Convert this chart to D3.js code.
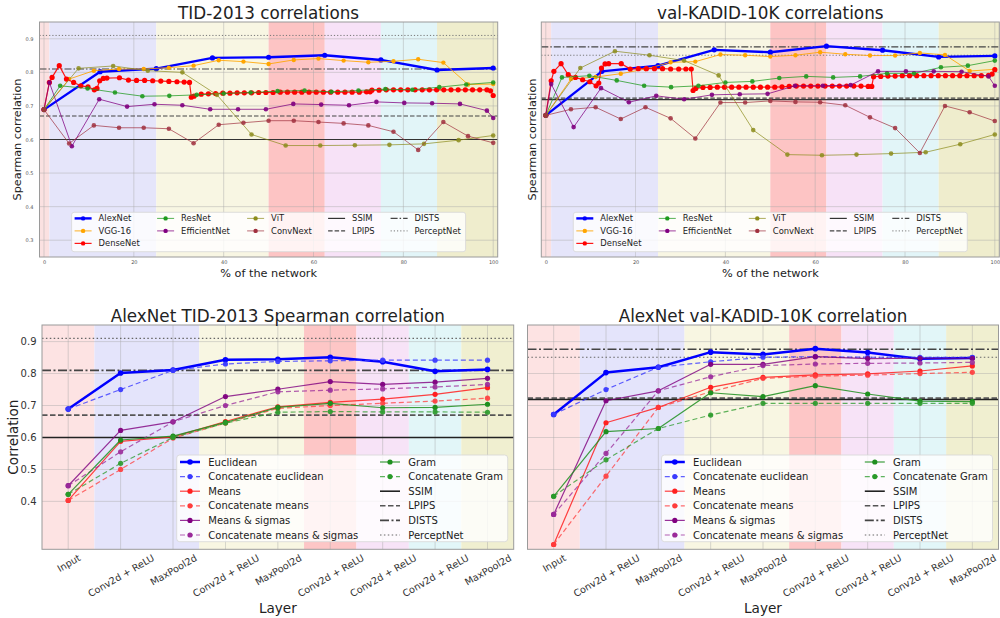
<!DOCTYPE html>
<html>
<head>
<meta charset="utf-8">
<script src="https://cdn.jsdelivr.net/npm/d3@7"></script>
<style>
  body { margin: 0; background: #fff; }
  svg { display: block; font-family: "DejaVu Sans", "Liberation Sans", sans-serif; }
  svg text { font-family: "DejaVu Sans", "Liberation Sans", sans-serif; }
</style>
</head>
<body>
<svg id="chart" width="1000" height="618"></svg>
<script>
// ---------------- data ----------------
const networkNames = ["AlexNet", "VGG-16", "DenseNet", "ResNet", "EfficientNet", "ViT", "ConvNext"];
const baselineNames = ["SSIM", "LPIPS", "DISTS", "PerceptNet"];
const pctTicks = [0, 20, 40, 60, 80, 100];
const corrTicksTop = [0.3, 0.4, 0.5, 0.6, 0.7, 0.8, 0.9];
const corrTicksBottom = [0.4, 0.5, 0.6, 0.7, 0.8, 0.9];
const layerNames = ["Input", "Conv2d + ReLU", "MaxPool2d", "Conv2d + ReLU", "MaxPool2d",
                    "Conv2d + ReLU", "Conv2d + ReLU", "Conv2d + ReLU", "MaxPool2d"];
const layerIndex = [0, 1, 2, 3, 4, 5, 6, 7, 8];
// AlexNet stage boundaries, in % of network and in layer index
const pctBandEdges = [-1, 1.2, 25, 50, 62.5, 75, 87.5, 101];
const layerBandEdges = [-0.5, 0.5, 2.5, 4.5, 5.5, 6.5, 7.5, 8.5];

// sampled layer positions (% of the network)
const alexPos = [0, 12.5, 25, 37.5, 50, 62.5, 75, 87.5, 100];
const vggPos = [0, 5.6, 11.1, 16.7, 22.2, 27.8, 33.3, 38.9, 44.4, 50, 55.6, 61.1, 66.7, 72.2, 77.8, 83.3, 88.9, 94.4, 100];
const convNextPos = [0, 5.6, 11.1, 16.7, 22.2, 27.8, 33.3, 38.9, 44.4, 50, 55.6, 61.1, 66.7, 72.2, 77.8, 83.3, 88.9, 94.4, 100];
const resPos = [0, 3.6, 9.7, 15.8, 21.9, 27.9, 34, 40, 46, 52, 58, 64, 70, 76, 82, 88, 94, 100];
const effPos = [0, 1.2, 6.2, 12.3, 18.5, 24.6, 30.8, 37, 43.2, 49.4, 55.5, 61.7, 67.9, 74, 80.2, 86.4, 92.6, 98.6, 100];
const vitPos = [0, 7.7, 15.4, 23.1, 30.8, 38.5, 46.2, 53.8, 61.5, 69.2, 76.9, 84.6, 92.3, 100];
const densePos = [0, 1.2, 1.8, 3.4, 5.0, 6.6, 8.2, 9.8, 11.2, 11.8, 12.4, 13.2, 14.0, 16.8, 18.8, 20.6, 22.4, 24.2,
  26.0, 27.8, 29.6, 31.2, 32.4, 32.8, 33.4, 35.0, 36.6, 38.2, 39.8, 41.4, 43.0, 44.6, 46.2, 47.8, 49.4, 51.0,
  52.6, 54.2, 55.8, 57.4, 59.0, 60.6, 62.2, 63.8, 65.4, 67.0, 68.6, 70.2, 71.8, 72.6, 73.0, 74.6, 76.2, 77.8,
  79.4, 81.0, 82.6, 84.2, 85.8, 87.4, 89.0, 90.6, 92.2, 93.8, 95.4, 97.0, 98.6, 99.4, 100];

// TID-2013 Spearman correlations per network
const alexTID = [0.689, 0.802, 0.811, 0.843, 0.845, 0.851, 0.837, 0.807, 0.813];
const vggTID = [0.689, 0.78, 0.805, 0.81, 0.81, 0.814, 0.82, 0.836, 0.832, 0.825, 0.837, 0.841, 0.835, 0.83, 0.833, 0.839, 0.829, 0.764, 0.765];
const denseTID = [0.689, 0.77, 0.785, 0.82, 0.78, 0.77, 0.76, 0.757, 0.748, 0.752, 0.775, 0.782, 0.783,
  0.784, 0.777, 0.776, 0.776, 0.775, 0.774, 0.773, 0.772, 0.771, 0.770,
  0.726, 0.729,
  0.735, 0.736, 0.737, 0.738, 0.738, 0.739, 0.739, 0.739, 0.74, 0.74, 0.74, 0.741, 0.741, 0.741, 0.741, 0.741,
  0.741, 0.741, 0.741, 0.741, 0.741, 0.741, 0.741, 0.742, 0.742,
  0.747, 0.747, 0.748, 0.748, 0.748, 0.748, 0.748, 0.748, 0.748, 0.748, 0.748, 0.748, 0.748, 0.748, 0.748, 0.748, 0.748,
  0.745, 0.731];
const resTID = [0.689, 0.76, 0.752, 0.74, 0.729, 0.73, 0.733, 0.737, 0.74, 0.744, 0.746, 0.742, 0.746, 0.75, 0.748, 0.756, 0.764, 0.77];
const effTID = [0.689, 0.77, 0.58, 0.72, 0.698, 0.705, 0.702, 0.69, 0.69, 0.69, 0.706, 0.704, 0.702, 0.712, 0.709, 0.708, 0.706, 0.686, 0.664];
const vitTID = [0.689, 0.812, 0.819, 0.805, 0.80, 0.733, 0.615, 0.582, 0.582, 0.583, 0.584, 0.587, 0.598, 0.612];
const convNextTID = [0.689, 0.588, 0.642, 0.635, 0.635, 0.632, 0.589, 0.644, 0.65, 0.656, 0.656, 0.652, 0.648, 0.642, 0.623, 0.569, 0.652, 0.61, 0.59];

// val-KADID-10K Spearman correlations per network
const alexKADID = [0.672, 0.803, 0.82, 0.867, 0.86, 0.878, 0.866, 0.846, 0.849];
const vggKADID = [0.672, 0.78, 0.786, 0.796, 0.81, 0.83, 0.832, 0.853, 0.851, 0.847, 0.851, 0.86, 0.854, 0.85, 0.85, 0.858, 0.852, 0.804, 0.809];
const denseKADID = [0.672, 0.775, 0.803, 0.826, 0.793, 0.785, 0.778, 0.772, 0.76, 0.768, 0.813, 0.825, 0.826,
  0.826, 0.81, 0.811, 0.811, 0.811, 0.811, 0.81, 0.81, 0.81, 0.81,
  0.746, 0.752,
  0.755, 0.755, 0.756, 0.756, 0.756, 0.756, 0.756, 0.756, 0.756, 0.756, 0.756, 0.757, 0.758, 0.759, 0.759, 0.759,
  0.759, 0.759, 0.759, 0.759, 0.759, 0.759, 0.759, 0.758, 0.758,
  0.787, 0.788, 0.789, 0.789, 0.79, 0.79, 0.79, 0.79, 0.79, 0.79, 0.79, 0.79, 0.79, 0.79, 0.79, 0.79, 0.791,
  0.795, 0.808];
const resKADID = [0.672, 0.785, 0.79, 0.776, 0.76, 0.756, 0.76, 0.77, 0.773, 0.783, 0.788, 0.785, 0.788, 0.797, 0.797, 0.815, 0.82, 0.835];
const effKADID = [0.672, 0.765, 0.637, 0.753, 0.711, 0.73, 0.72, 0.733, 0.735, 0.736, 0.76, 0.76, 0.762, 0.803, 0.803, 0.803, 0.802, 0.788, 0.76];
const vitKADID = [0.672, 0.813, 0.863, 0.851, 0.835, 0.791, 0.628, 0.555, 0.553, 0.555, 0.558, 0.562, 0.586, 0.615];
const convNextKADID = [0.672, 0.69, 0.696, 0.661, 0.696, 0.663, 0.603, 0.71, 0.71, 0.715, 0.712, 0.711, 0.702, 0.666, 0.634, 0.56, 0.7, 0.681, 0.655];

// reference metrics: SSIM, LPIPS, DISTS, PerceptNet
const baselineTID = [0.60, 0.67, 0.81, 0.91];
const baselineKADID = [0.719, 0.723, 0.876, 0.851];

// AlexNet per-layer distances (Euclidean uses alexTID / alexKADID)
const methodNames = ["Euclidean", "Concatenate euclidean", "Means", "Concatenate means",
                     "Means & sigmas", "Concatenate means & sigmas", "Gram", "Concatenate Gram"];
const concatEuclidTID = [0.689, 0.75, 0.81, 0.83, 0.838, 0.84, 0.842, 0.842, 0.842];
const meansTID = [0.403, 0.588, 0.602, 0.65, 0.696, 0.71, 0.72, 0.735, 0.756];
const concatMeansTID = [0.403, 0.50, 0.598, 0.645, 0.691, 0.70, 0.707, 0.714, 0.723];
const meanSigmaTID = [0.449, 0.622, 0.649, 0.728, 0.751, 0.775, 0.766, 0.773, 0.785];
const concatMeanSigmaTID = [0.449, 0.555, 0.649, 0.70, 0.743, 0.748, 0.752, 0.758, 0.766];
const gramTID = [0.422, 0.592, 0.604, 0.647, 0.694, 0.707, 0.693, 0.694, 0.704];
const concatGramTID = [0.422, 0.519, 0.60, 0.645, 0.679, 0.681, 0.68, 0.68, 0.679];

const concatEuclidKADID = [0.672, 0.75, 0.82, 0.837, 0.851, 0.853, 0.851, 0.851, 0.851];
const meansKADID = [0.265, 0.646, 0.694, 0.757, 0.788, 0.796, 0.799, 0.808, 0.824];
const concatMeansKADID = [0.265, 0.479, 0.694, 0.743, 0.785, 0.792, 0.795, 0.80, 0.804];
const meanSigmaKADID = [0.359, 0.715, 0.746, 0.829, 0.829, 0.853, 0.847, 0.848, 0.848];
const concatMeanSigmaKADID = [0.359, 0.55, 0.746, 0.79, 0.825, 0.83, 0.832, 0.833, 0.835];
const gramKADID = [0.416, 0.618, 0.628, 0.74, 0.728, 0.762, 0.736, 0.714, 0.712];
const concatGramKADID = [0.416, 0.53, 0.628, 0.67, 0.707, 0.707, 0.707, 0.707, 0.707];

// ---------------- styles ----------------
const FONT = '"DejaVu Sans", "Liberation Sans", sans-serif';
const bandFillTop = ["#fbe1e1", "#e5e5fa", "#f8f6e3", "#fdc4c4", "#f7e2f7", "#e2f5f8", "#efedcd"];
const bandFillBottom = ["#fde3e3", "#e4e4fb", "#f8f6e2", "#fdc6c6", "#f7e3f7", "#e2f6f8", "#f0efd0"];

const netStyle = {
  "AlexNet":      { color: "#0000ff", width: 2.4, r: 2.6, op: 1 },
  "VGG-16":       { color: "#ffa500", width: 1.0, r: 2.2, op: 0.85 },
  "DenseNet":     { color: "#ff0000", width: 1.2, r: 2.6, op: 0.9 },
  "ResNet":       { color: "#1f9a1f", width: 1.0, r: 2.3, op: 0.75 },
  "EfficientNet": { color: "#800080", width: 1.0, r: 2.3, op: 0.75 },
  "ViT":          { color: "#8c8c1c", width: 1.0, r: 2.3, op: 0.7 },
  "ConvNext":     { color: "#a0303e", width: 1.0, r: 2.3, op: 0.7 }
};
const baseStyleTop = {
  "SSIM":       { color: "#333", width: 1.2, dash: null },
  "LPIPS":      { color: "#444", width: 1.2, dash: "4.5,2" },
  "DISTS":      { color: "#444", width: 1.2, dash: "7,2,1.5,2" },
  "PerceptNet": { color: "#777", width: 1.0, dash: "1.2,2" }
};
const baseStyleBottom = {
  "SSIM":       { color: "#222", width: 1.6, dash: null },
  "LPIPS":      { color: "#555", width: 1.6, dash: "5.5,2.5" },
  "DISTS":      { color: "#444", width: 1.6, dash: "9,2.5,2,2.5" },
  "PerceptNet": { color: "#666", width: 1.2, dash: "1.5,2.4" }
};
const methodStyle = {
  "Euclidean":                  { color: "#0000ff", width: 2.5, r: 2.8, op: 1 },
  "Concatenate euclidean":      { color: "#3a3aff", width: 1.2, r: 2.6, op: 0.8, dash: "5,3" },
  "Means":                      { color: "#ff2020", width: 1.2, r: 2.6, op: 0.85 },
  "Concatenate means":          { color: "#ff3c3c", width: 1.2, r: 2.6, op: 0.75, dash: "5,3" },
  "Means & sigmas":             { color: "#800080", width: 1.2, r: 2.6, op: 0.8 },
  "Concatenate means & sigmas": { color: "#9a2a9a", width: 1.2, r: 2.6, op: 0.75, dash: "5,3" },
  "Gram":                       { color: "#1f8f1f", width: 1.2, r: 2.6, op: 0.85 },
  "Concatenate Gram":           { color: "#2a9a2a", width: 1.2, r: 2.6, op: 0.75, dash: "5,3" }
};

const svg = d3.select("#chart");

// ---------------- helpers ----------------
function frame(box, xDomain, yDomain, edges, fills, xGrid, yGrid) {
  const g = svg.append("g");
  const x = d3.scaleLinear().domain(xDomain).range([box.x0, box.x1]);
  const y = d3.scaleLinear().domain(yDomain).range([box.y1, box.y0]);
  g.append("rect").attr("x", box.x0).attr("y", box.y0)
    .attr("width", box.x1 - box.x0).attr("height", box.y1 - box.y0).attr("fill", "#fff");
  g.selectAll("rect.band").data(d3.pairs(edges)).join("rect").attr("class", "band")
    .attr("x", d => x(d[0])).attr("width", d => x(d[1]) - x(d[0]))
    .attr("y", box.y0).attr("height", box.y1 - box.y0)
    .attr("fill", (d, i) => fills[i]);
  g.selectAll("line.gx").data(xGrid).join("line").attr("class", "gx")
    .attr("x1", d => x(d)).attr("x2", d => x(d)).attr("y1", box.y0).attr("y2", box.y1)
    .attr("stroke", "#a8a8a8").attr("stroke-width", 0.8).attr("opacity", 0.55);
  g.selectAll("line.gy").data(yGrid).join("line").attr("class", "gy")
    .attr("x1", box.x0).attr("x2", box.x1).attr("y1", d => y(d)).attr("y2", d => y(d))
    .attr("stroke", "#a8a8a8").attr("stroke-width", 0.8).attr("opacity", 0.55);
  return { g, x, y };
}

function hline(p, box, value, st) {
  p.g.append("line").attr("x1", box.x0).attr("x2", box.x1)
    .attr("y1", p.y(value)).attr("y2", p.y(value))
    .attr("stroke", st.color).attr("stroke-width", st.width)
    .attr("stroke-dasharray", st.dash);
}

function series(p, xs, vs, st) {
  const pts = d3.zip(xs, vs);
  p.g.append("path").datum(pts)
    .attr("d", d3.line().x(d => p.x(d[0])).y(d => p.y(d[1])))
    .attr("fill", "none").attr("stroke", st.color).attr("stroke-width", st.width)
    .attr("stroke-dasharray", st.dash || null).attr("stroke-linejoin", "round")
    .attr("opacity", st.op);
  p.g.append("g").selectAll("circle").data(pts).join("circle")
    .attr("cx", d => p.x(d[0])).attr("cy", d => p.y(d[1])).attr("r", st.r)
    .attr("fill", st.color).attr("opacity", Math.min(1, st.op + 0.15));
}

function spines(box) {
  svg.append("rect").attr("x", box.x0).attr("y", box.y0)
    .attr("width", box.x1 - box.x0).attr("height", box.y1 - box.y0)
    .attr("fill", "none").attr("stroke", "#9a9a9a").attr("stroke-width", 1);
}

function styleAxis(sel, fs, fill) {
  sel.attr("font-family", FONT).attr("font-size", null);
  sel.select(".domain").remove();
  sel.selectAll("text").attr("font-size", fs).attr("fill", fill).attr("font-family", FONT);
}

function legendEntry(g, hx, ty, len, textDx, fs, st, label) {
  g.append("line").attr("x1", hx).attr("x2", hx + len).attr("y1", ty).attr("y2", ty)
    .attr("stroke", st.color).attr("stroke-width", st.width)
    .attr("stroke-dasharray", st.dash || null).attr("opacity", st.op === undefined ? 1 : st.op);
  if (st.r) {
    g.append("circle").attr("cx", hx + len / 2).attr("cy", ty).attr("r", st.r)
      .attr("fill", st.color);
  }
  g.append("text").attr("x", hx + textDx).attr("y", ty).attr("dy", "0.35em")
    .attr("font-size", fs).attr("fill", "#222").text(label);
}

// ---------------- top row: % of network ----------------
function topPanel(box, title, values, baselines, showYTicks) {
  const p = frame(box, [-1, 101], [0.25, 0.95], pctBandEdges, bandFillTop, pctTicks, corrTicksTop);
  baselineNames.forEach((n, i) => hline(p, box, baselines[i], baseStyleTop[n]));
  const positions = [alexPos, vggPos, densePos, resPos, effPos, vitPos, convNextPos];
  networkNames.forEach((n, i) => series(p, positions[i], values[i], netStyle[n]));

  // axes
  const ax = svg.append("g").attr("transform", `translate(0,${box.y1})`)
    .call(d3.axisBottom(p.x).tickValues(pctTicks).tickSize(0).tickPadding(3).tickFormat(d3.format("d")));
  styleAxis(ax, 5, "#555");
  if (showYTicks) {
    const ay = svg.append("g").attr("transform", `translate(${box.x0},0)`)
      .call(d3.axisLeft(p.y).tickValues(corrTicksTop).tickSize(0).tickPadding(6).tickFormat(d3.format(".1f")));
    styleAxis(ay, 5, "#555");
  }
  spines(box);

  const cx = (box.x0 + box.x1) / 2;
  svg.append("text").attr("x", cx).attr("y", 19).attr("text-anchor", "middle")
    .attr("font-size", 16.8).attr("fill", "#222").text(title);
  svg.append("text").attr("x", cx).attr("y", 277).attr("text-anchor", "middle")
    .attr("font-size", 11.3).attr("fill", "#222").text("% of the network");
  const ylx = showYTicks ? box.x0 - 22.8 : box.x0 - 9.6;
  svg.append("text").attr("transform", `translate(${ylx},${(box.y0 + box.y1) / 2}) rotate(-90)`)
    .attr("text-anchor", "middle").attr("dy", "0.35em")
    .attr("font-size", 11.3).attr("fill", "#222").text("Spearman correlation");

  // legend (5 columns, lower center)
  const lg = svg.append("g");
  const left = cx - 197;
  lg.append("rect").attr("x", left).attr("y", 212.3).attr("width", 394).attr("height", 39.4)
    .attr("rx", 2.5).attr("fill", "#fff").attr("fill-opacity", 0.8)
    .attr("stroke", "#d6d6d6").attr("stroke-width", 0.8);
  const colX = [3, 85.5, 175.5, 256.5, 319];
  const rowY = [218.4, 230.9, 243.4];
  const entries = networkNames.map(n => [n, netStyle[n]])
    .concat(baselineNames.map(n => [n, baseStyleTop[n]]));
  const colOf = [0, 0, 0, 1, 1, 2, 2, 3, 3, 4, 4];
  const rowOf = [0, 1, 2, 0, 1, 0, 1, 0, 1, 0, 1];
  entries.forEach((e, i) => {
    const st = Object.assign({}, e[1]);
    if (st.r) st.r = Math.min(st.r, 2.2);
    legendEntry(lg, left + colX[colOf[i]], rowY[rowOf[i]], 17, 24, 8.4, st, e[0]);
  });
}

topPanel({ x0: 39.5, x1: 497.7, y0: 22, y1: 257 }, "TID-2013 correlations",
  [alexTID, vggTID, denseTID, resTID, effTID, vitTID, convNextTID], baselineTID, true);
topPanel({ x0: 541.3, x1: 999.3, y0: 22, y1: 257 }, "val-KADID-10K correlations",
  [alexKADID, vggKADID, denseKADID, resKADID, effKADID, vitKADID, convNextKADID], baselineKADID, false);

// ---------------- bottom row: AlexNet per layer ----------------
function bottomPanel(box, title, values, baselines, showY) {
  const p = frame(box, [-0.5, 8.5], [0.25, 0.952], layerBandEdges, bandFillBottom, layerIndex, corrTicksBottom);
  baselineNames.forEach((n, i) => hline(p, box, baselines[i], baseStyleBottom[n]));
  methodNames.forEach((n, i) => series(p, layerIndex, values[i], methodStyle[n]));

  const ax = svg.append("g").attr("transform", `translate(0,${box.y1})`)
    .call(d3.axisBottom(p.x).tickValues(layerIndex).tickSize(0).tickFormat(i => layerNames[i]));
  const fs = 9.6;
  styleAxis(ax, fs, "#333");
  ax.selectAll("text")
    .attr("text-anchor", "middle").attr("dy", null).attr("y", 0)
    .attr("dominant-baseline", "central")
    .attr("transform", function () {
      const w = this.getComputedTextLength();
      const bh = w * 0.5 + fs * 1.1 * 0.866;
      return `translate(0,${3 + bh / 2}) rotate(-30)`;
    });
  if (showY) {
    const ay = svg.append("g").attr("transform", `translate(${box.x0},0)`)
      .call(d3.axisLeft(p.y).tickValues(corrTicksBottom).tickSize(0).tickPadding(5.5).tickFormat(d3.format(".1f")));
    styleAxis(ay, 10, "#333");
    svg.append("text").attr("transform", `translate(${box.x0 - 29},${(box.y0 + box.y1) / 2}) rotate(-90)`)
      .attr("text-anchor", "middle").attr("dy", "0.35em")
      .attr("font-size", 13.6).attr("fill", "#222").text("Correlation");
  }
  spines(box);

  const cx = (box.x0 + box.x1) / 2;
  svg.append("text").attr("x", cx).attr("y", 321.7).attr("text-anchor", "middle")
    .attr("font-size", 16.8).attr("fill", "#222").text(title);
  svg.append("text").attr("x", cx).attr("y", 613).attr("text-anchor", "middle")
    .attr("font-size", 13.6).attr("fill", "#222").text("Layer");

  // legend (2 columns, lower right)
  const lg = svg.append("g");
  const left = box.x1 - 337;
  lg.append("rect").attr("x", left).attr("y", 455).attr("width", 331).attr("height", 86.7)
    .attr("rx", 3).attr("fill", "#fff").attr("fill-opacity", 0.8)
    .attr("stroke", "#d6d6d6").attr("stroke-width", 0.8);
  const rowY = d3.range(6).map(i => 462 + i * 14.6);
  methodNames.forEach((n, i) => {
    const col = i < 6 ? 0 : 1;
    const row = i < 6 ? i : i - 6;
    legendEntry(lg, left + (col ? 203.3 : 3.3), rowY[row], 20, 28.3, 10, methodStyle[n], n);
  });
  baselineNames.forEach((n, i) => {
    legendEntry(lg, left + 203.3, rowY[i + 2], 20, 28.3, 10, baseStyleBottom[n], n);
  });
}

bottomPanel({ x0: 42, x1: 513.7, y0: 325, y1: 549.3 }, "AlexNet TID-2013 Spearman correlation",
  [alexTID, concatEuclidTID, meansTID, concatMeansTID, meanSigmaTID, concatMeanSigmaTID, gramTID, concatGramTID],
  baselineTID, true);
bottomPanel({ x0: 527.5, x1: 998.5, y0: 325, y1: 549.3 }, "AlexNet val-KADID-10K correlation",
  [alexKADID, concatEuclidKADID, meansKADID, concatMeansKADID, meanSigmaKADID, concatMeanSigmaKADID, gramKADID, concatGramKADID],
  baselineKADID, false);
</script>
</body>
</html>
